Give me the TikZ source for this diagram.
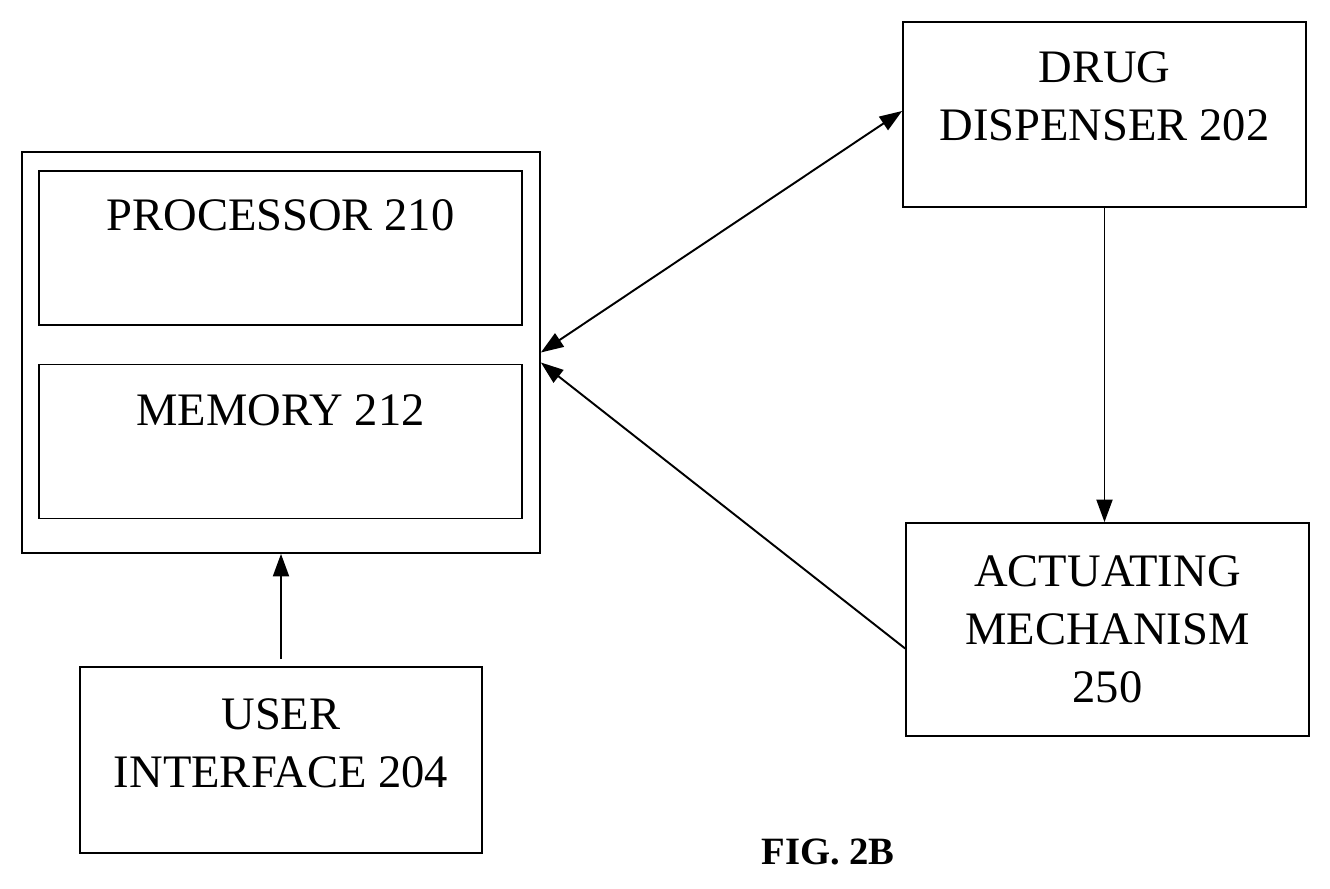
\documentclass[tikz,border=0pt]{standalone}
\usepackage{fontspec}
\setmainfont{Liberation Serif}
\usetikzlibrary{arrows.meta,positioning}
\tikzset{
  box/.style={draw,line width=1pt,inner sep=0pt},
  lbl/.style={font=\fontsize{26.5}{33}\selectfont,align=center},
  arr/.style={line width=1.1pt,-{Triangle[length=0.45cm,width=0.32cm]}}
}
\begin{document}
\begin{tikzpicture}[every path/.style={line width=1pt}]
\useasboundingbox (0,0) rectangle (26.6,17.78);
% controller
\node[box,minimum width=10.36cm,minimum height=8.02cm] (ctrl) at (5.62,10.73) {};
\node[box,minimum width=9.66cm,minimum height=3.08cm] (proc) at (5.61,12.82) {};
\node[lbl] (proctxt) at (5.61,13.48) {PROCESSOR 210};
\node[box,minimum width=9.66cm,minimum height=3.08cm] (mem) at (5.61,8.95) {};
\node[lbl] (memtxt) at (5.61,9.58) {MEMORY 212};
% peripherals
\node[box,minimum width=8.06cm,minimum height=3.7cm] (drug) at (22.09,15.49) {};
\node[lbl] (drugtxt) at (22.09,15.85) {DRUG\\DISPENSER 202};
\node[box,lbl,minimum width=8.06cm,minimum height=4.26cm] (act) at (22.15,5.19) {ACTUATING\\MECHANISM\\250};
\node[box,minimum width=8.04cm,minimum height=3.72cm] (ui) at (5.62,2.58) {};
\node[lbl] (uitxt) at (5.62,2.92) {USER\\INTERFACE 204};
\node[font=\fontsize{22}{26}\selectfont\bfseries] (fig) at (16.56,0.74) {FIG. 2B};
% connectors
\draw[arr,{Triangle[length=0.45cm,width=0.32cm]}-{Triangle[length=0.45cm,width=0.32cm]}] (ctrl.east) -- ([yshift=0.07cm]drug.west);
\draw[arr] ([yshift=-0.38cm]act.west) -- ([yshift=-0.2cm]ctrl.east);
\draw[arr] (drug.south) -- (drug.south |- act.north);
\draw[arr] ([yshift=0.14cm]ui.north) -- (ctrl.south);
\end{tikzpicture}
\end{document}
